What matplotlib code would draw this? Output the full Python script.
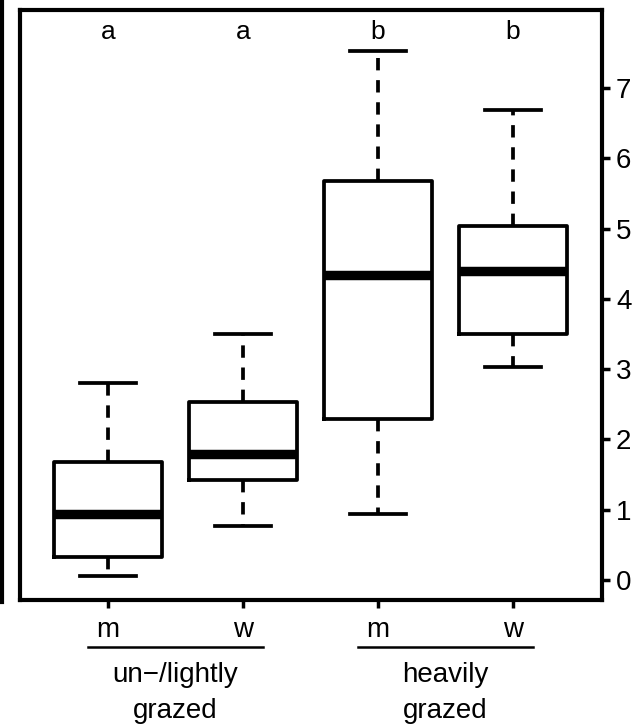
import matplotlib.pyplot as plt
from matplotlib.lines import Line2D

plt.rcParams['font.family'] = ['Liberation Sans', 'DejaVu Sans']

# Boxplot-Kennwerte
positionen = [1, 2, 3, 4]
whisker_unten = [0.06, 0.77, 0.94, 3.03]
quartil_1 = [0.33, 1.42, 2.29, 3.50]
mediane = [0.94, 1.79, 4.34, 4.40]
quartil_3 = [1.68, 2.53, 5.67, 5.04]
whisker_oben = [2.80, 3.50, 7.53, 6.69]
buchstaben = ['a', 'a', 'b', 'b']
tick_labels = ['m', 'w', 'm', 'w']
gruppen = [['un\u2212/lightly', 'grazed'], ['heavily', 'grazed']]

stats = []
for lo, q1, med, q3, hi in zip(whisker_unten, quartil_1, mediane, quartil_3, whisker_oben):
    stats.append(dict(whislo=lo, q1=q1, med=med, q3=q3, whishi=hi, fliers=[]))

fig = plt.figure(figsize=(6.42, 7.28), dpi=100)
W, H = 642, 728
ax = fig.add_axes([20 / W, 1 - 600 / H, 582 / W, 590 / H])

ax.bxp(stats, positions=positionen, widths=0.8, capwidths=0.42,
       boxprops=dict(color='black', linewidth=2.7),
       medianprops=dict(color='black', linewidth=6.8, solid_capstyle='butt'),
       whiskerprops=dict(color='black', linewidth=2.7, linestyle=(0, (3.3, 2.6))),
       capprops=dict(color='black', linewidth=2.7))

ax.set_xlim(0.348, 4.66)
ax.set_ylim(-0.285, 8.11)

# Buchstaben oben
for x, b in zip(positionen, buchstaben):
    ax.text(x, 7.70, b, ha='center', va='baseline', fontsize=19)

# Achsen
for s in ax.spines.values():
    s.set_linewidth(3.0)
ax.yaxis.tick_right()
ax.set_yticks(range(8))
ax.tick_params(axis='y', length=6, width=2.5, labelsize=20, pad=4)
ax.set_xticks(positionen)
ax.set_xticklabels(tick_labels)
ax.tick_params(axis='x', length=6, width=2.5, labelsize=20, pad=6)

# Linien unter den Gruppen + Gruppenbeschriftung
trans = ax.get_xaxis_transform()
for i, g in enumerate(gruppen):
    x0 = positionen[2 * i] - 0.15
    x1 = positionen[2 * i + 1] + 0.15
    xm = (positionen[2 * i] + positionen[2 * i + 1]) / 2
    ax.plot([x0, x1], [-0.08, -0.08], color='black', linewidth=1.8,
            transform=trans, clip_on=False)
    ax.text(xm, -82 / 590, g[0], transform=trans, ha='center',
            va='baseline', fontsize=20)
    ax.text(xm, -118 / 590, g[1], transform=trans, ha='center',
            va='baseline', fontsize=20)

# Rest einer Nachbarabbildung am linken Rand
fig.add_artist(Line2D([2 / W, 2 / W], [1, 1 - 602 / H], color='black',
                      linewidth=3.0, transform=fig.transFigure))

fig.savefig('out.png', dpi=100)
